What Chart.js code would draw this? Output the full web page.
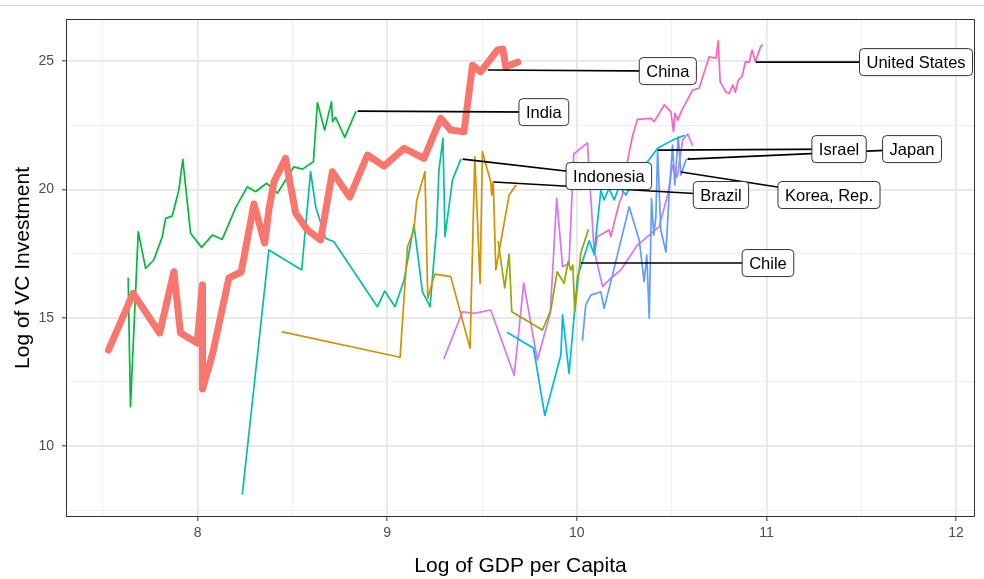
<!DOCTYPE html>
<html>
<head>
<meta charset="utf-8">
<script src="https://cdn.jsdelivr.net/npm/chart.js@4.4.1/dist/chart.umd.min.js"></script>
<style>
  body { margin: 0; background: #fff; }
  #wrap { width: 984px; height: 579px; }
</style>
</head>
<body>
<div id="wrap"><canvas id="graph" width="984" height="579"></canvas></div>
<script>
// [log GDP per capita, log VC investment] per country
const china = [[7.53,13.74],[7.66,15.95],[7.80,14.40],[7.875,16.79],[7.91,14.40],[7.998,14.01],[8.025,16.27],[8.026,12.22],
  [8.08,13.62],[8.165,16.55],[8.23,16.78],[8.297,19.43],[8.354,17.91],[8.376,19.20],[8.403,20.30],[8.464,21.21],
  [8.517,19.08],[8.579,18.42],[8.649,18.03],[8.711,20.69],[8.802,19.70],[8.896,21.34],[8.983,20.91],[9.089,21.60],
  [9.194,21.21],[9.282,22.77],[9.335,22.31],[9.405,22.25],[9.45,24.84],[9.493,24.58],[9.581,25.43],[9.61,25.47],
  [9.625,24.77],[9.689,24.96]];
const brazil = [[8.447,14.45],[9.068,13.46],[9.107,17.77],[9.141,18.42],[9.156,19.59],[9.199,20.69],[9.214,15.76],
  [9.251,16.70],[9.335,16.60],[9.437,13.81],[9.462,21.27],[9.49,16.34],[9.502,21.47],[9.546,20.30],[9.551,19.78],
  [9.559,20.30],[9.573,16.86],[9.599,17.96],[9.643,19.78],[9.678,20.15]];
const chile = [[9.585,17.96],[9.62,16.16],[9.643,17.48],[9.657,15.23],[9.819,14.52],[9.863,15.30],[9.896,16.79],
  [9.933,16.34],[9.954,17.18],[9.968,16.86],[9.979,17.05],[9.989,15.23],[10.005,16.34],[10.021,17.51],[10.06,18.42]];
const india = [[7.634,16.53],[7.646,11.53],[7.687,18.35],[7.726,16.92],[7.769,17.25],[7.814,18.16],[7.831,18.87],
  [7.866,18.96],[7.901,19.97],[7.922,21.17],[7.963,18.29],[8.021,17.74],[8.078,18.22],[8.13,18.05],[8.201,19.29],
  [8.262,20.10],[8.306,19.91],[8.364,20.24],[8.421,19.85],[8.508,20.88],[8.553,20.79],[8.611,21.08],[8.632,23.38],
  [8.67,22.31],[8.706,23.41],[8.712,22.64],[8.728,22.81],[8.776,22.03],[8.834,23.02]];
const indonesia = [[8.236,8.13],[8.376,17.64],[8.549,16.86],[8.596,20.69],[8.623,19.32],[8.675,18.09],[8.719,17.96],
  [8.948,15.43],[8.987,16.04],[9.041,15.43],[9.089,16.47],[9.141,18.61],[9.186,16.01],[9.226,15.43],[9.261,18.54],
  [9.273,20.75],[9.294,21.99],[9.305,18.16],[9.344,20.36],[9.388,21.17]];
const israel = [[9.634,14.42],[9.772,13.81],[9.831,11.19],[9.916,13.55],[9.925,15.11],[9.959,12.83],[10.004,16.60],
  [10.065,18.00],[10.091,17.48],[10.127,19.97],[10.144,19.59],[10.17,20.04],[10.197,19.59],[10.223,20.10],
  [10.259,19.78],[10.311,20.56],[10.373,21.08],[10.426,21.60],[10.505,21.92],[10.566,22.10]];
const japan = [[10.03,14.13],[10.047,15.49],[10.074,15.88],[10.127,16.01],[10.144,15.37],[10.188,16.66],[10.276,19.32],
  [10.329,18.03],[10.355,16.40],[10.369,17.44],[10.382,14.98],[10.394,19.65],[10.406,18.22],[10.417,18.93],
  [10.426,21.53],[10.443,18.42],[10.47,17.56],[10.487,19.78],[10.505,21.73],[10.517,20.17],[10.535,22.05],
  [10.549,20.56],[10.575,21.14],[10.591,21.22]];
const korea = [[9.30,13.42],[9.397,15.23],[9.458,15.17],[9.546,15.30],[9.67,12.75],[9.72,16.35],[9.792,13.35],
  [9.86,15.17],[9.894,19.65],[9.925,16.99],[9.959,17.12],[9.984,21.38],[10.056,21.81],[10.091,17.64],[10.136,16.21],
  [10.17,16.47],[10.232,16.86],[10.32,17.83],[10.382,18.22],[10.434,18.54],[10.479,19.78],[10.505,20.95],
  [10.53,20.48],[10.558,21.92],[10.584,22.16],[10.61,21.73]];
const usa = [[10.091,17.44],[10.109,18.16],[10.17,18.42],[10.179,18.16],[10.223,19.46],[10.24,19.78],[10.268,21.14],
  [10.294,22.08],[10.32,22.73],[10.391,22.77],[10.408,22.64],[10.461,23.29],[10.496,23.03],[10.51,22.25],
  [10.517,22.96],[10.533,22.70],[10.549,23.01],[10.61,23.87],[10.645,23.94],[10.698,25.17],[10.734,25.11],
  [10.746,25.79],[10.756,24.19],[10.786,23.80],[10.804,23.74],[10.823,24.07],[10.836,23.79],[10.852,24.26],
  [10.871,24.39],[10.889,24.97],[10.91,24.96],[10.924,25.43],[10.942,24.97],[10.969,25.56],[10.979,25.62]];

const countries = ['China', 'Brazil', 'Chile', 'India', 'Indonesia', 'Israel', 'Japan', 'Korea, Rep.', 'United States'];
const series = [china, brazil, chile, india, indonesia, israel, japan, korea, usa];
const colors = ['#F8766D', '#D39200', '#93AA00', '#00BA38', '#00C19F', '#00B9E3', '#619CFF', '#DB72FB', '#FF61C3'];

const xTicks = [7.5, 8, 8.5, 9, 9.5, 10, 10.5, 11, 11.5, 12];
const yTicks = [7.5, 10, 12.5, 15, 17.5, 20, 22.5, 25];

// label point on the line and where the repelled label box sits (data units)
const labelPoint = [[9.53,24.65],[9.562,20.29],[10.021,17.13],[8.844,23.05],[9.398,21.18],[10.427,21.53],[10.586,21.18],[10.549,20.68],[10.945,24.96]];
const labelBox = [[10.48,24.61],[10.76,19.78],[11.008,17.13],[9.826,23.01],[10.169,20.52],[11.383,21.57],[11.768,21.57],[11.33,19.78],[11.789,24.96]];

const FONT = '"Liberation Sans", Arial, Helvetica, sans-serif';

const datasets = series.map((pts, i) => ({
  label: countries[i],
  data: pts.map(p => ({x: p[0], y: p[1]})),
  showLine: true,
  borderColor: colors[i],
  backgroundColor: colors[i],
  borderWidth: i === 0 ? 7 : 1.7,
  borderJoinStyle: 'round',
  borderCapStyle: 'round',
  pointRadius: 0,
  tension: 0,
}));

const isMajor = v => Number.isInteger(v);

const labelPlugin = {
  id: 'countryLabels',
  afterDatasetsDraw(chart) {
    const {ctx, scales: {x, y}} = chart;
    ctx.save();
    // segments first so the boxes cover them
    ctx.strokeStyle = '#000';
    ctx.lineWidth = 1.6;
    labelPoint.forEach((p, i) => {
      ctx.beginPath();
      ctx.moveTo(x.getPixelForValue(p[0]), y.getPixelForValue(p[1]));
      ctx.lineTo(x.getPixelForValue(labelBox[i][0]), y.getPixelForValue(labelBox[i][1]));
      ctx.stroke();
    });
    ctx.font = '16.5px ' + FONT;
    ctx.textAlign = 'center';
    ctx.textBaseline = 'middle';
    labelBox.forEach((b, i) => {
      const cx = x.getPixelForValue(b[0]);
      const cy = y.getPixelForValue(b[1]);
      const w = ctx.measureText(countries[i]).width + 14;
      const h = 27;
      ctx.beginPath();
      ctx.roundRect(cx - w / 2, cy - h / 2, w, h, 4);
      ctx.fillStyle = '#fff';
      ctx.fill();
      ctx.strokeStyle = '#333';
      ctx.lineWidth = 1;
      ctx.stroke();
      ctx.fillStyle = '#000';
      ctx.fillText(countries[i], cx, cy + 1);
    });
    ctx.restore();
  },
  afterDraw(chart) {
    const {ctx, chartArea: a} = chart;
    ctx.save();
    ctx.strokeStyle = '#333';
    ctx.lineWidth = 1;
    ctx.strokeRect(a.left + 0.5, a.top + 0.5, a.right - a.left - 1, a.bottom - a.top - 1);
    // faint rule at the very top of the picture
    ctx.strokeStyle = '#dcdcdc';
    ctx.beginPath();
    ctx.moveTo(0, 5.5);
    ctx.lineTo(chart.width, 5.5);
    ctx.stroke();
    ctx.restore();
  }
};

const ctx = document.getElementById('graph').getContext('2d');
const chart = new Chart(ctx, {
  type: 'scatter',
  data: { datasets: datasets },
  options: {
    responsive: false,
    animation: false,
    layout: { padding: { top: 19, right: 9, left: 0, bottom: 0 } },
    plugins: { legend: { display: false }, tooltip: { enabled: false } },
    scales: {
      x: {
        type: 'linear',
        min: 7.306,
        max: 12.1,
        afterBuildTicks: s => { s.ticks = xTicks.map(v => ({value: v})); },
        afterFit: s => { s.height = 62; },
        border: { display: false },
        grid: {
          color: c => isMajor(c.tick.value) ? '#e6e6e6' : '#efefef',
          lineWidth: c => isMajor(c.tick.value) ? 1.7 : 1,
          tickColor: c => isMajor(c.tick.value) ? '#333' : 'rgba(0,0,0,0)',
          tickLength: 4,
          tickWidth: 1,
        },
        ticks: {
          autoSkip: false,
          maxRotation: 0,
          padding: 4,
          color: '#4d4d4d',
          font: { family: FONT, size: 14 },
          callback: v => isMajor(v) ? String(v) : '',
        },
        title: {
          display: true,
          text: 'Log of GDP per Capita',
          color: '#000',
          font: { family: FONT, size: 21 },
          padding: { top: 0, bottom: 0 },
        },
      },
      y: {
        type: 'linear',
        min: 7.234,
        max: 26.64,
        afterBuildTicks: s => { s.ticks = yTicks.map(v => ({value: v})); },
        afterFit: s => { s.width = 66; },
        border: { display: false },
        grid: {
          color: c => c.tick.value % 5 === 0 ? '#e6e6e6' : '#efefef',
          lineWidth: c => c.tick.value % 5 === 0 ? 1.7 : 1,
          tickColor: c => c.tick.value % 5 === 0 ? '#333' : 'rgba(0,0,0,0)',
          tickLength: 4,
          tickWidth: 1,
        },
        ticks: {
          autoSkip: false,
          padding: 8,
          color: '#4d4d4d',
          font: { family: FONT, size: 14 },
          callback: v => v % 5 === 0 ? String(v) : '',
        },
        title: {
          display: true,
          text: 'Log of VC Investment',
          color: '#000',
          font: { family: FONT, size: 21 },
          padding: { top: 11, bottom: 0 },
        },
      },
    },
  },
  plugins: [labelPlugin],
});
</script>
</body>
</html>
